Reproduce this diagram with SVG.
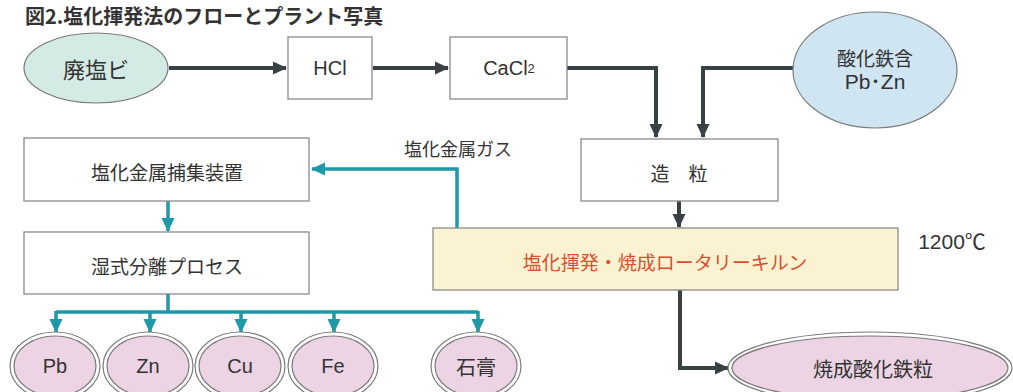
<svg xmlns="http://www.w3.org/2000/svg" width="1013" height="392" viewBox="0 0 1013 392">
  <defs>
    <marker id="ad" markerUnits="userSpaceOnUse" markerWidth="14" markerHeight="14" viewBox="0 0 14 14" refX="13" refY="7" orient="auto">
      <path d="M0,0.5 L14,7 L0,13.5 Z" fill="#3a4144"/>
    </marker>
    <marker id="at" markerUnits="userSpaceOnUse" markerWidth="14" markerHeight="14" viewBox="0 0 14 14" refX="13" refY="7" orient="auto">
      <path d="M0,0.5 L14,7 L0,13.5 Z" fill="#1f98a8"/>
    </marker>
    <style>
      text { font-family: "Noto Sans CJK JP", "Noto Sans", sans-serif; fill: #333; text-anchor: middle; dominant-baseline: central; }
      .lat { font-family: "Liberation Sans", "Noto Sans CJK JP", sans-serif; }
      .box { fill: #fff; stroke: #8a8a8a; stroke-width: 1.3; }
      .dk { fill: none; stroke: #3a4144; stroke-width: 4; }
      .tl { fill: none; stroke: #1f98a8; stroke-width: 3.5; }
      .pk-o { fill: #fff; stroke: #7a7a7a; stroke-width: 1.2; }
      .pk-i { fill: #ecd4e4; stroke: #7a7a7a; stroke-width: 1.2; }
    </style>
  </defs>

  <text x="25" y="15" style="font-size:20px;font-weight:bold;text-anchor:start;fill:#333">図2.塩化揮発法のフローとプラント写真</text>

  <g id="connectors">
    <line class="dk" x1="169" y1="68" x2="286" y2="68" marker-end="url(#ad)"/>
    <line class="dk" x1="373" y1="68" x2="448" y2="68" marker-end="url(#ad)"/>
    <polyline class="dk" points="567,68 656,68 656,137" marker-end="url(#ad)"/>
    <polyline class="dk" points="793,68 703,68 703,137" marker-end="url(#ad)"/>
    <line class="dk" x1="679" y1="201" x2="679" y2="227" marker-end="url(#ad)"/>
    <polyline class="dk" points="680,290 680,368 728,368" marker-end="url(#ad)"/>
    <polyline class="tl" points="457,228 457,169 312,169" marker-end="url(#at)"/>
    <line class="tl" x1="168" y1="201" x2="168" y2="231" marker-end="url(#at)"/>
    <polyline class="tl" points="168,294 168,312"/>
    <polyline class="tl" points="56,312 478,312"/>
    <line class="tl" x1="56" y1="311" x2="56" y2="332" marker-end="url(#at)"/>
    <line class="tl" x1="150" y1="311" x2="150" y2="332" marker-end="url(#at)"/>
    <line class="tl" x1="241" y1="311" x2="241" y2="332" marker-end="url(#at)"/>
    <line class="tl" x1="334" y1="311" x2="334" y2="332" marker-end="url(#at)"/>
    <line class="tl" x1="478" y1="311" x2="478" y2="332" marker-end="url(#at)"/>
    <text x="458" y="148" style="font-size:18px">塩化金属ガス</text>
  </g>

  <g id="haienbi">
    <ellipse cx="96" cy="68" rx="72" ry="35" fill="#d4eae5" stroke="#7a7a7a" stroke-width="1.2"/>
    <text x="96" y="68" style="font-size:22px">廃塩ビ</text>
  </g>
  <g id="hcl">
    <rect class="box" x="288" y="37" width="84" height="62"/>
    <text class="lat" x="330" y="68" style="font-size:20px">HCl</text>
  </g>
  <g id="cacl2">
    <rect class="box" x="450" y="37" width="117" height="62"/>
    <text class="lat" x="509" y="68" style="font-size:20px">CaCl<tspan style="font-size:13px">2</tspan></text>
  </g>
  <g id="sankatetsu">
    <ellipse cx="875" cy="70" rx="82" ry="58" fill="#cfe5f2" stroke="#7a7a7a" stroke-width="1.2"/>
    <text x="875" y="57" style="font-size:19px">酸化鉄含</text>
    <text class="lat" x="875" y="81" style="font-size:21px">Pb･Zn</text>
  </g>
  <g id="zoryu">
    <rect class="box" x="581" y="139" width="197" height="62"/>
    <text x="679" y="172" style="font-size:19px">造　粒</text>
  </g>
  <g id="hoshu">
    <rect class="box" x="24" y="138" width="285" height="63"/>
    <text x="167" y="171" style="font-size:19px">塩化金属捕集装置</text>
  </g>
  <g id="shisshiki">
    <rect class="box" x="24" y="232" width="285" height="62"/>
    <text x="167" y="265" style="font-size:19px">湿式分離プロセス</text>
  </g>
  <g id="kiln">
    <rect x="433" y="228" width="465" height="62" fill="#fbf2d2" stroke="#8a8a8a" stroke-width="1.3"/>
    <text x="665" y="261" style="font-size:19px;fill:#d8502e">塩化揮発・焼成ロータリーキルン</text>
  </g>
  <g id="temp">
    <text class="lat" x="952" y="241" style="font-size:21px">1200℃</text>
  </g>
  <g id="pb">
    <ellipse class="pk-o" cx="55" cy="366" rx="45" ry="34"/>
    <ellipse class="pk-i" cx="55" cy="366" rx="41" ry="30"/>
    <text class="lat" x="55" y="366" style="font-size:20px">Pb</text>
  </g>
  <g id="zn">
    <ellipse class="pk-o" cx="148" cy="366" rx="45" ry="34"/>
    <ellipse class="pk-i" cx="148" cy="366" rx="41" ry="30"/>
    <text class="lat" x="148" y="366" style="font-size:20px">Zn</text>
  </g>
  <g id="cu">
    <ellipse class="pk-o" cx="240" cy="366" rx="45" ry="34"/>
    <ellipse class="pk-i" cx="240" cy="366" rx="41" ry="30"/>
    <text class="lat" x="240" y="366" style="font-size:20px">Cu</text>
  </g>
  <g id="fe">
    <ellipse class="pk-o" cx="333" cy="366" rx="45" ry="34"/>
    <ellipse class="pk-i" cx="333" cy="366" rx="41" ry="30"/>
    <text class="lat" x="333" y="366" style="font-size:20px">Fe</text>
  </g>
  <g id="sekko">
    <ellipse class="pk-o" cx="476" cy="366" rx="45" ry="34"/>
    <ellipse class="pk-i" cx="476" cy="366" rx="41" ry="30"/>
    <text x="476" y="366" style="font-size:20px">石膏</text>
  </g>
  <g id="shosei">
    <ellipse class="pk-o" cx="870" cy="368" rx="142" ry="36"/>
    <ellipse class="pk-i" cx="870" cy="368" rx="138" ry="32"/>
    <text x="873" y="368" style="font-size:20px">焼成酸化鉄粒</text>
  </g>
</svg>
